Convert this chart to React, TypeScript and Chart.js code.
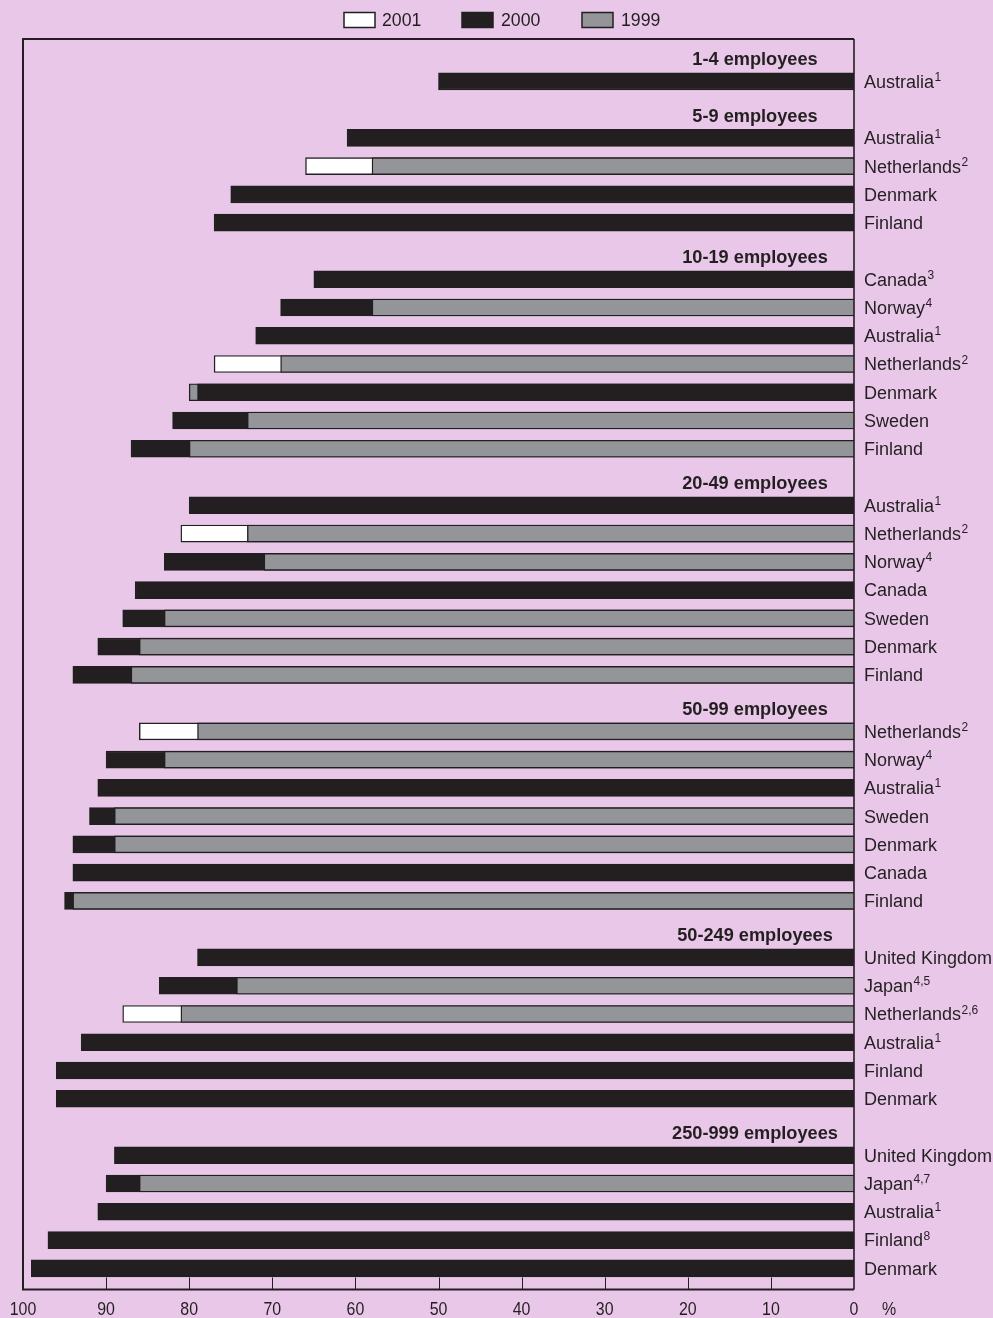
import React, { useEffect, useRef } from 'react';
import { Chart, registerables } from 'chart.js';

Chart.register(...registerables);

// ---------- DATA ----------
const groupHeaders = [
  '1-4 employees',
  '5-9 employees',
  '10-19 employees',
  '20-49 employees',
  '50-99 employees',
  '50-249 employees',
  '250-999 employees',
];

const rowGroup = [
  0,
  1, 1, 1, 1,
  2, 2, 2, 2, 2, 2, 2,
  3, 3, 3, 3, 3, 3, 3,
  4, 4, 4, 4, 4, 4, 4,
  5, 5, 5, 5, 5, 5,
  6, 6, 6, 6, 6,
];

const rowCountries = [
  'Australia',
  'Australia', 'Netherlands', 'Denmark', 'Finland',
  'Canada', 'Norway', 'Australia', 'Netherlands', 'Denmark', 'Sweden', 'Finland',
  'Australia', 'Netherlands', 'Norway', 'Canada', 'Sweden', 'Denmark', 'Finland',
  'Netherlands', 'Norway', 'Australia', 'Sweden', 'Denmark', 'Canada', 'Finland',
  'United Kingdom', 'Japan', 'Netherlands', 'Australia', 'Finland', 'Denmark',
  'United Kingdom', 'Japan', 'Australia', 'Finland', 'Denmark',
];

const rowNotes = [
  '1',
  '1', '2', '', '',
  '3', '4', '1', '2', '', '', '',
  '1', '2', '4', '', '', '', '',
  '2', '4', '1', '', '', '', '',
  '', '4,5', '2,6', '1', '', '',
  '', '4,7', '1', '8', '',
];

const values2001: (number | null)[] = [
  null,
  null, 66, null, null,
  null, null, null, 77, null, null, null,
  null, 81, null, null, null, null, null,
  86, null, null, null, null, null, null,
  null, null, 88, null, null, null,
  null, null, null, null, null,
];

const values2000: (number | null)[] = [
  50,
  61, null, 75, 77,
  65, 69, 72, null, 79, 82, 87,
  80, null, 83, 86.5, 88, 91, 94,
  null, 90, 91, 92, 94, 94, 95,
  79, 83.6, null, 93, 96, 96,
  89, 90, 91, 97, 99,
];

const values1999: (number | null)[] = [
  null,
  null, 58, null, null,
  null, 58, null, 69, 80, 73, 80,
  null, 73, 71, null, 83, 86, 87,
  79, 83, null, 89, 89, null, 94,
  null, 74.3, 81, null, null, null,
  null, 86, null, null, null,
];

const seriesYears = ['2001', '2000', '1999'];
const tickValues = [100, 90, 80, 70, 60, 50, 40, 30, 20, 10, 0];
const unitLabel = '%';

// ---------- STYLE ----------
const BG = '#e9c7e9';
const INK = '#231f20';
const GREY = '#939598';
const WHITE = '#ffffff';
const yearColors: Record<string, string> = { '2001': WHITE, '2000': INK, '1999': GREY };
const FONT = '"Liberation Sans", Arial, Helvetica, sans-serif';

// ---------- BUILD ----------
function buildLayout() {
  const rowSlot: number[] = [];
  const headerSlot: number[] = [];
  let s = 0;
  let lastGroup = -1;
  rowGroup.forEach((g, i) => {
    if (g !== lastGroup) {
      headerSlot[g] = s++;
      lastGroup = g;
    }
    rowSlot[i] = s++;
  });
  return { rowSlot, headerSlot, slotCount: s };
}

function buildLayers(rowSlot: number[]) {
  const series = [values2001, values2000, values1999];
  const layers = [0, 1, 2].map(() => ({ data: [] as { x: number; y: number }[], colors: [] as string[] }));
  rowSlot.forEach((slot, i) => {
    const entries = series
      .map((arr, k) => ({ year: seriesYears[k], v: arr[i] }))
      .filter((e) => e.v !== null && e.v !== undefined) as { year: string; v: number }[];
    entries.sort((a, b) => b.v - a.v);
    entries.forEach((e, k) => {
      layers[k].data.push({ x: e.v, y: slot });
      layers[k].colors.push(yearColors[e.year]);
    });
  });
  return layers;
}

export default function App() {
  const canvasRef = useRef<HTMLCanvasElement | null>(null);

  useEffect(() => {
    document.body.style.margin = '0';
    document.body.style.background = BG;
    const canvas = canvasRef.current;
    if (!canvas) return;
    const { rowSlot, headerSlot, slotCount } = buildLayout();
    const layers = buildLayers(rowSlot);

    const bgPlugin = {
      id: 'bgFill',
      beforeDraw(chart: any) {
        const ctx = chart.ctx;
        ctx.save();
        ctx.fillStyle = BG;
        ctx.fillRect(0, 0, chart.width, chart.height);
        ctx.restore();
      },
    };

    const decorPlugin = {
      id: 'decor',
      afterDraw(chart: any) {
        const ctx: CanvasRenderingContext2D = chart.ctx;
        const a = chart.chartArea;
        const xs = chart.scales.x;
        const ys = chart.scales.y;
        ctx.save();

        // frame
        ctx.strokeStyle = INK;
        ctx.lineWidth = 2;
        ctx.beginPath();
        ctx.moveTo(a.left, a.bottom);
        ctx.lineTo(a.left, a.top);
        ctx.lineTo(a.right, a.top);
        ctx.moveTo(a.left - 1, a.bottom);
        ctx.lineTo(a.right, a.bottom);
        ctx.stroke();
        ctx.lineWidth = 1.6;
        ctx.beginPath();
        const x0 = xs.getPixelForValue(0);
        ctx.moveTo(x0, a.top);
        ctx.lineTo(x0, a.bottom);
        ctx.stroke();

        // inward tick marks + condensed tick labels
        ctx.lineWidth = 1;
        ctx.fillStyle = INK;
        ctx.font = `18.5px ${FONT}`;
        ctx.textAlign = 'center';
        ctx.textBaseline = 'alphabetic';
        const drawCondensed = (t: string, cx: number, by: number) => {
          ctx.save();
          ctx.translate(cx, by);
          ctx.scale(0.86, 1);
          ctx.fillText(t, 0, 0);
          ctx.restore();
        };
        tickValues.forEach((v) => {
          const px = xs.getPixelForValue(v);
          if (v !== 0 && v !== 100) {
            ctx.beginPath();
            ctx.moveTo(Math.round(px) + 0.5, a.bottom - 12);
            ctx.lineTo(Math.round(px) + 0.5, a.bottom);
            ctx.stroke();
          }
          drawCondensed(String(v), px, 1315);
        });
        drawCondensed(unitLabel, 889, 1315);

        // group headers
        ctx.font = `bold 18.2px ${FONT}`;
        ctx.textAlign = 'center';
        groupHeaders.forEach((h, g) => {
          const cy = ys.getPixelForValue(headerSlot[g]);
          ctx.fillText(h, 755, cy + 12);
        });

        // row labels with superscripts
        ctx.textAlign = 'left';
        rowCountries.forEach((c, i) => {
          const cy = ys.getPixelForValue(rowSlot[i]);
          const base = cy + 6.4;
          ctx.font = `18px ${FONT}`;
          ctx.fillText(c, 864, base);
          const w = ctx.measureText(c).width;
          if (rowNotes[i]) {
            ctx.font = `12px ${FONT}`;
            ctx.fillText(rowNotes[i], 864 + w + 0.5, base - 6.8);
          }
        });

        // legend
        const legendBoxes = [344, 462, 582];
        const legendText = [382, 501, 621];
        ctx.font = `17.7px ${FONT}`;
        seriesYears.forEach((yr, k) => {
          ctx.fillStyle = yearColors[yr];
          ctx.fillRect(legendBoxes[k], 12.5, 31, 15);
          ctx.strokeStyle = INK;
          ctx.lineWidth = 1.5;
          ctx.strokeRect(legendBoxes[k], 12.5, 31, 15);
          ctx.fillStyle = INK;
          ctx.fillText(yr, legendText[k], 26);
        });

        ctx.restore();
      },
    };

    const datasets = layers.map((l, k) => ({
      label: 'layer' + k,
      data: l.data,
      backgroundColor: l.colors,
      borderColor: INK,
      borderWidth: 1.4,
      borderSkipped: 'start',
      grouped: false,
      barThickness: 17,
      order: 3 - k,
    }));

    const chart = new Chart(canvas, {
      type: 'bar',
      data: { datasets: datasets as any },
      options: {
        indexAxis: 'y',
        responsive: false,
        animation: false,
        devicePixelRatio: 1,
        layout: { padding: { left: 23, top: 39, right: 993 - 854, bottom: 1318 - 1289.5 } },
        plugins: { legend: { display: false }, tooltip: { enabled: false } },
        scales: {
          x: { type: 'linear', min: 0, max: 100, reverse: true, display: false, offset: false },
          y: {
            type: 'linear',
            min: -0.5,
            max: slotCount - 1 + 0.75,
            reverse: true,
            display: false,
            offset: false,
            grace: 0,
          },
        },
      },
      plugins: [bgPlugin, decorPlugin],
    });
    return () => chart.destroy();
  }, []);

  return (
    <div style={{ width: 993, height: 1318, background: BG }}>
      <canvas ref={canvasRef} width={993} height={1318} style={{ display: 'block' }} />
    </div>
  );
}
